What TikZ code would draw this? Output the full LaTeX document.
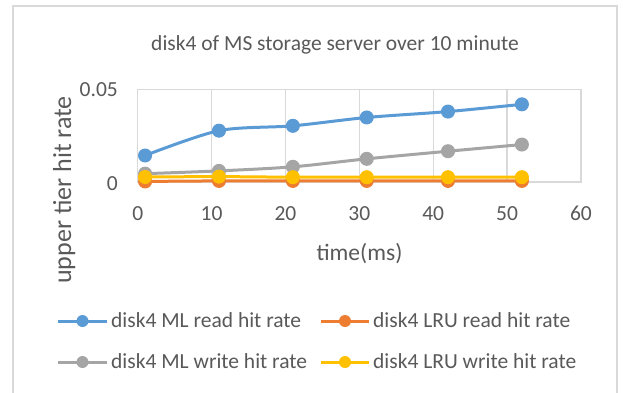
\documentclass[tikz,border=0pt]{standalone}
\usepackage{fontspec}
\setmainfont{Carlito}
\definecolor{cblue}{HTML}{5B9BD5}
\definecolor{corange}{HTML}{ED7D31}
\definecolor{cgray}{HTML}{A5A5A5}
\definecolor{cyellow}{HTML}{FFC000}
\definecolor{gridc}{HTML}{D9D9D9}
\definecolor{txt}{HTML}{595959}
\begin{document}
\begin{tikzpicture}[x=1pt,y=-1pt,
  every node/.style={text=txt, inner sep=0pt},
  lbl/.style={font=\fontsize{21.5}{25}\selectfont},
  ttl/.style={font=\fontsize{23.5}{28}\selectfont},
  gridline/.style={draw=gridc, line width=1.3pt},
  series/.style={line width=3pt, line join=round, mark=*, mark size=6.5pt, mark options={solid, line width=1pt}},
  legline/.style={line width=3pt},
]
\useasboundingbox (0,0) rectangle (623,392);
\fill[white] (0,0) rectangle (623,392);
\draw[gridc, line width=2pt] (13,6) rectangle (616.5,420);

\node[lbl, anchor=base] (title) at (335,50) {disk4 of MS storage server over 10 minute};

\begin{scope}[shift={(137.7,182)}, x=7.388pt, y=1854pt]
  \foreach \v in {10,20,...,50} \draw[gridline] (\v,0) -- (\v,0.05);
  \draw[gridline] (0,0) rectangle (60,0.05);
  \foreach \v in {0,10,...,60}
    \node[lbl, anchor=base, yshift=-38pt] (xt\v) at (\v,0) {\v};
  \node[lbl, anchor=base east, xshift=-19.7pt, yshift=-8.5pt] (yt0) at (0,0) {0};
  \node[lbl, anchor=base east, xshift=-19.7pt, yshift=-7.5pt] (yt5) at (0,0.05) {0.05};
  % series
  \draw[series, cblue] plot[smooth, tension=0.5] coordinates {(1,0.0143) (11,0.0277) (21,0.0303) (31,0.0348) (42,0.0380) (52,0.0419)};
  \draw[series, corange] plot[smooth, tension=0.5] coordinates {(1,0.0003) (11,0.0006) (21,0.0006) (31,0.0006) (42,0.0006) (52,0.0006)};
  \draw[series, cgray] plot[smooth, tension=0.5] coordinates {(1,0.0045) (11,0.0060) (21,0.0082) (31,0.0125) (42,0.0166) (52,0.0202)};
  \draw[series, cyellow] plot[smooth, tension=0.5] coordinates {(1,0.0027) (11,0.0029) (21,0.0026) (31,0.0026) (42,0.0026) (52,0.0026)};
\end{scope}

\node[ttl, anchor=base] (xtitle) at (359.5,260) {time(ms)};
\node[ttl, font=\fontsize{26}{30}\selectfont, anchor=base, rotate=90] (ytitle) at (71,190) {upper tier hit rate};

% legend
\foreach \c/\xa/\xm/\xb/\yy/\name/\t in {
  cblue/58/82.5/107/321/la/{disk4 ML read hit rate},
  corange/321/345/369/321/lb/{disk4 LRU read hit rate},
  cgray/58/82.5/107/362/lc/{disk4 ML write hit rate},
  cyellow/321/345/369/362/ld/{disk4 LRU write hit rate}} {
  \coordinate (\name-a) at (\xa,\yy);
  \coordinate (\name-b) at (\xb,\yy);
  \draw[legline, \c] (\name-a) -- (\name-b);
  \fill[\c] (\xm,\yy) circle (6pt);
  \node[lbl, anchor=base west] (\name) at (\xb+4,\yy+6.5) {\t};
}
\end{tikzpicture}
\end{document}
